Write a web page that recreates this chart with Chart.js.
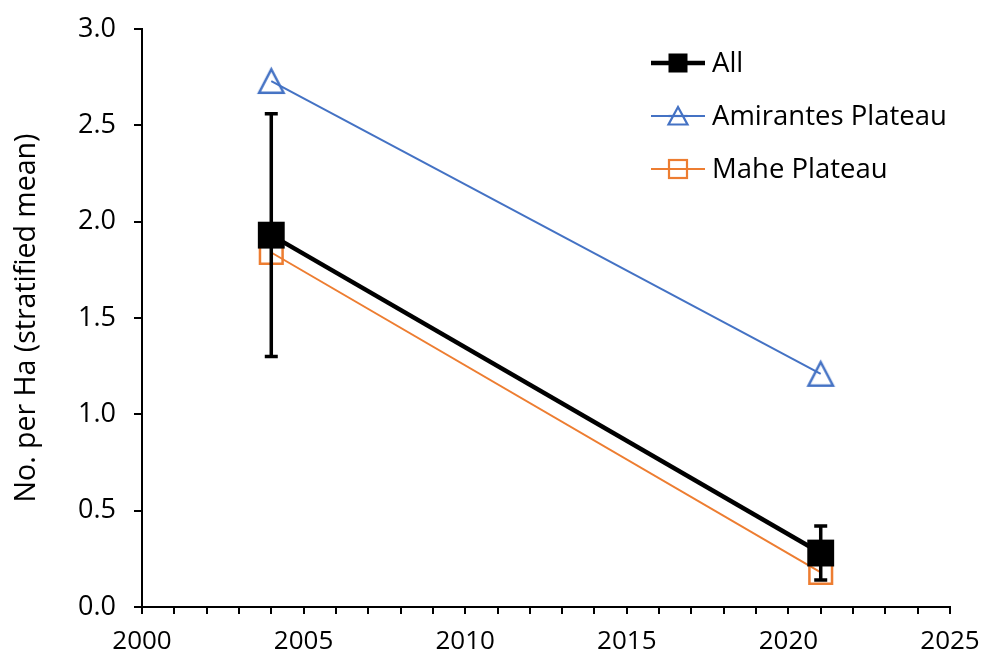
<!DOCTYPE html>
<html>
<head>
<meta charset="utf-8">
<script src="https://cdn.jsdelivr.net/npm/chart.js@4"></script>
<style>
  html, body { margin: 0; padding: 0; background: #fff; }
  #wrap { width: 984px; height: 661px; position: relative; }
</style>
</head>
<body>
<div id="wrap"><canvas id="c" width="984" height="661"></canvas></div>
<script>
// Survey years and stratified mean densities (No. per Ha)
const years = [2004, 2021];
const allMean = [1.93, 0.28];
const allLow = [1.30, 0.14];
const allHigh = [2.56, 0.42];
const amirantes = [2.73, 1.21];
const mahe = [1.84, 0.18];

const seriesNames = ['All', 'Amirantes Plateau', 'Mahe Plateau'];
const yTitle = 'No. per Ha (stratified mean)';

const FONT = '"Open Sans", "Liberation Sans", sans-serif';
const BLUE = '#4472C4';
const ORANGE = '#ED7D31';

function pts(ys) { return years.map((x, i) => ({ x: x, y: ys[i] })); }

// Hollow triangle marker centred on its bounding box
function triangleMarker(w, h, color, lw) {
  const c = document.createElement('canvas');
  c.width = w + 4; c.height = h + 4;
  const g = c.getContext('2d');
  g.strokeStyle = color; g.lineWidth = lw; g.lineJoin = 'miter';
  g.beginPath();
  g.moveTo(c.width / 2, 2 + lw / 2);
  g.lineTo(c.width - 2 - lw / 2, c.height - 2 - lw / 2);
  g.lineTo(2 + lw / 2, c.height - 2 - lw / 2);
  g.closePath();
  g.stroke();
  return c;
}
const triBig = triangleMarker(27, 26, BLUE, 2.5);

// Vertical error bars for the "All" series, drawn through the chart scales
const errorBars = {
  id: 'errorBars',
  afterDatasetDraw(chart, args) {
    if (args.index !== 0) return;
    const { ctx, scales: { x, y } } = chart;
    ctx.save();
    ctx.strokeStyle = '#000';
    ctx.lineWidth = 3.5;
    years.forEach((yr, i) => {
      const px = x.getPixelForValue(yr);
      const lo = y.getPixelForValue(allLow[i]);
      const hi = y.getPixelForValue(allHigh[i]);
      ctx.beginPath();
      ctx.moveTo(px, lo); ctx.lineTo(px, hi);
      ctx.moveTo(px - 6.5, lo); ctx.lineTo(px + 6.5, lo);
      ctx.moveTo(px - 6.5, hi); ctx.lineTo(px + 6.5, hi);
      ctx.stroke();
    });
    ctx.restore();
  }
};

// Legend with line sample plus marker, placed in the upper right of the plot
const markerLegend = {
  id: 'markerLegend',
  afterDraw(chart) {
    const { ctx } = chart;
    const x0 = 651, x1 = 705, rows = [63, 116, 169];
    ctx.save();
    chart.data.datasets.forEach((ds, i) => {
      const yy = rows[i];
      const cx = (x0 + x1) / 2;
      ctx.strokeStyle = ds.borderColor;
      ctx.lineWidth = ds.borderWidth;
      ctx.beginPath(); ctx.moveTo(x0, yy); ctx.lineTo(x1, yy); ctx.stroke();
      ctx.lineWidth = 2.2;
      ctx.strokeStyle = ds.borderColor;
      if (i === 1) {
        ctx.beginPath();
        ctx.moveTo(cx, yy - 9);
        ctx.lineTo(cx + 9.5, yy + 8.5);
        ctx.lineTo(cx - 9.5, yy + 8.5);
        ctx.closePath();
        ctx.fillStyle = '#fff';
        ctx.fill(); ctx.stroke();
        ctx.beginPath(); ctx.moveTo(cx - 9.5, yy); ctx.lineTo(cx + 9.5, yy); ctx.stroke();
      } else if (i === 0) {
        ctx.fillStyle = '#000';
        ctx.fillRect(cx - 9.5, yy - 9.5, 19, 19);
      } else {
        ctx.strokeRect(cx - 9, yy - 9, 18, 18);
      }
      ctx.fillStyle = '#000';
      ctx.font = '27.5px ' + FONT;
      ctx.textBaseline = 'middle';
      ctx.textAlign = 'left';
      ctx.fillText(ds.label, 712, yy + 1);
    });
    ctx.restore();
  }
};

new Chart(document.getElementById('c'), {
  type: 'line',
  data: {
    datasets: [
      {
        label: seriesNames[0], data: pts(allMean),
        borderColor: '#000', borderWidth: 4.5,
        pointStyle: 'rect', pointRadius: 19,
        pointBackgroundColor: '#000', pointBorderColor: '#000', pointBorderWidth: 0
      },
      {
        label: seriesNames[1], data: pts(amirantes),
        borderColor: BLUE, borderWidth: 2,
        pointStyle: triBig, pointRadius: 14
      },
      {
        label: seriesNames[2], data: pts(mahe),
        borderColor: ORANGE, borderWidth: 2,
        pointStyle: 'rect', pointRadius: 16,
        pointBackgroundColor: 'rgba(255,255,255,0)', pointBorderColor: ORANGE, pointBorderWidth: 2.5
      }
    ]
  },
  options: {
    responsive: false,
    animation: false,
    layout: { padding: { top: 29, right: 34, left: 0, bottom: 0 } },
    plugins: { legend: { display: false }, tooltip: { enabled: false } },
    elements: { line: { tension: 0 } },
    scales: {
      x: {
        type: 'linear', min: 2000, max: 2025,
        afterFit(s) { s.height = 54; s.paddingLeft = 0; s.paddingRight = 0; },
        afterBuildTicks(s) {
          const t = [];
          for (let v = 2000; v <= 2025; v++) t.push({ value: v });
          s.ticks = t;
        },
        grid: { drawOnChartArea: false, drawTicks: true, tickLength: 7, color: '#000', lineWidth: 2 },
        border: { color: '#000', width: 2 },
        ticks: {
          autoSkip: false, maxRotation: 0, padding: 12,
          color: '#000', font: { size: 26, family: FONT },
          callback: v => (v % 5 === 0 ? String(v) : '')
        }
      },
      y: {
        min: 0, max: 3,
        afterFit(s) { s.width = 142; s.paddingTop = 0; s.paddingBottom = 0; },
        grid: { drawOnChartArea: false, drawTicks: true, tickLength: 8, color: '#000', lineWidth: 2 },
        border: { color: '#000', width: 2 },
        ticks: {
          stepSize: 0.5, padding: 18,
          color: '#000', font: { size: 27, family: FONT },
          callback: v => Number(v).toFixed(1)
        },
        title: {
          display: true, text: yTitle, color: '#000',
          font: { size: 28.5, family: FONT }, padding: { top: 10, bottom: 0 }
        }
      }
    }
  },
  plugins: [errorBars, markerLegend]
});
</script>
</body>
</html>
